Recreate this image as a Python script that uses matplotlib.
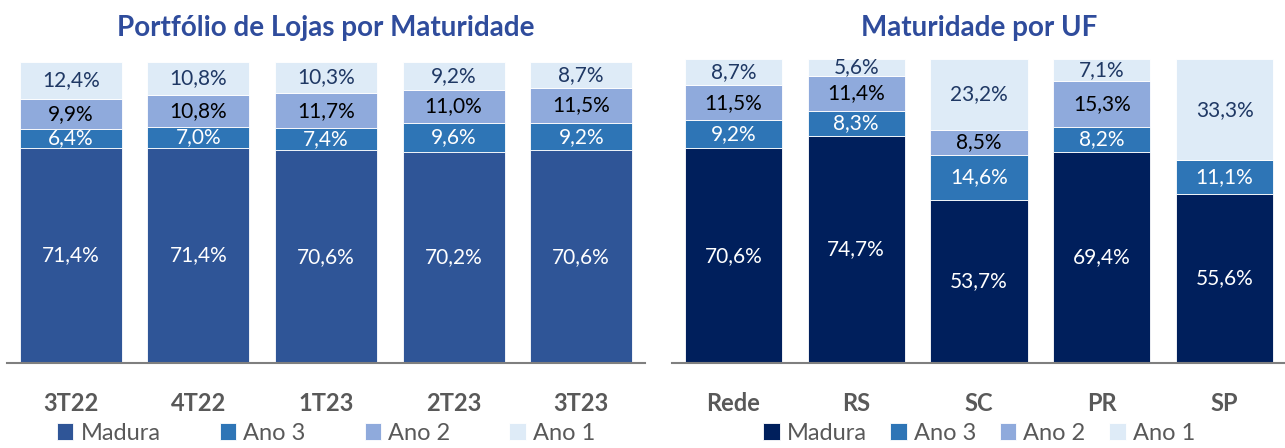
import numpy as np
import matplotlib
matplotlib.use("Agg")
import matplotlib.pyplot as plt

plt.rcParams['font.family'] = ['Lato', 'DejaVu Sans']

# dados - portfolio por trimestre
trimestres = ['3T22', '4T22', '1T23', '2T23', '3T23']
port_madura = [71.4, 71.4, 70.6, 70.2, 70.6]
port_ano3 = [6.4, 7.0, 7.4, 9.6, 9.2]
port_ano2 = [9.9, 10.8, 11.7, 11.0, 11.5]
port_ano1 = [12.4, 10.8, 10.3, 9.2, 8.7]

# dados - maturidade por UF
ufs = ['Rede', 'RS', 'SC', 'PR', 'SP']
uf_madura = [70.6, 74.7, 53.7, 69.4, 55.6]
uf_ano3 = [9.2, 8.3, 14.6, 8.2, 11.1]
uf_ano2 = [11.5, 11.4, 8.5, 15.3, 0.0]
uf_ano1 = [8.7, 5.6, 23.2, 7.1, 33.3]

series_names = ['Madura', 'Ano 3', 'Ano 2', 'Ano 1']
label_colors = ['white', 'white', 'black', '#1F3864']
cores_esq = ['#2F5597', '#2E75B6', '#8FAADC', '#DEEBF7']
cores_dir = ['#001F5C', '#2E75B6', '#8FAADC', '#DEEBF7']

title_color = '#2F4C9C'
gray = '#595959'

fig = plt.figure(figsize=(12.85, 4.48), dpi=100)
W, H = 1285, 448


def make_ax(x0, x1, ytop, ybase=363):
    return fig.add_axes([x0 / W, (H - ybase) / H, (x1 - x0) / W, (ybase - ytop) / H])


def draw(ax, cats, series, cores, width, title, title_pad, legend_spacing):
    x = np.arange(len(cats))
    bottom = np.zeros(len(cats))
    handles = []
    for vals, cor, name, lc in zip(series, cores, series_names, label_colors):
        vals = np.array(vals)
        b = ax.bar(x, vals, width, bottom=bottom, color=cor, edgecolor='white',
                   linewidth=0.6, label=name)
        handles.append(b)
        for xi, v, bt in zip(x, vals, bottom):
            if v > 0:
                ax.text(xi, bt + v / 2, f'{v:.1f}%'.replace('.', ','), ha='center',
                        va='center', fontsize=15, color=lc)
        bottom += vals
    ax.set_xlim(-0.5, len(cats) - 0.5)
    ax.set_ylim(0, 100)
    ax.set_xticks(x)
    ax.set_xticklabels(cats, fontsize=17, fontweight='bold', color=gray)
    ax.tick_params(axis='x', length=0, pad=21)
    ax.set_yticks([])
    for s in ['top', 'right', 'left']:
        ax.spines[s].set_visible(False)
    ax.spines['bottom'].set_color('#7F7F7F')
    ax.spines['bottom'].set_linewidth(1.5)
    ax.set_title(title, fontsize=20, fontweight='bold', color=title_color, pad=title_pad)
    bb = ax.get_position()
    ax.legend(handles=handles, loc='center',
              bbox_to_anchor=((bb.x0 + bb.x1) / 2, (H - 433) / H),
              bbox_transform=fig.transFigure,
              ncol=4, frameon=False, fontsize=17, handlelength=0.7,
              handleheight=0.7, handletextpad=0.3, columnspacing=legend_spacing,
              labelcolor=gray, borderaxespad=0, borderpad=0)
    return ax


ax1 = make_ax(7, 645, 62)
draw(ax1, trimestres, [port_madura, port_ano3, port_ano2, port_ano1], cores_esq,
     0.8, 'Portfólio de Lojas por Maturidade', 19, 2.5)

ax2 = make_ax(672, 1286, 59)
draw(ax2, ufs, [uf_madura, uf_ano3, uf_ano2, uf_ano1], cores_dir,
     0.79, 'Maturidade por UF', 16.5, 1.0)

fig.savefig('out.png', dpi=100)
